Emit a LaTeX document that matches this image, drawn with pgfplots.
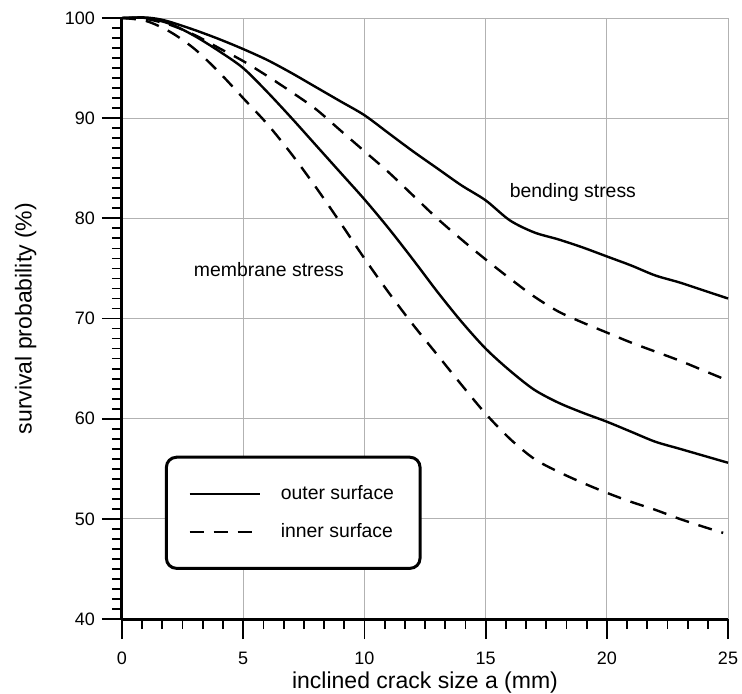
\documentclass[border=0pt]{standalone}
\usepackage{fontspec}
\setmainfont{Liberation Sans}
\usepackage{pgfplots}
\pgfplotsset{compat=1.18}
\begin{document}
\begin{tikzpicture}
\useasboundingbox (-61pt,-37pt) rectangle (310pt,309.5pt);
\begin{axis}[
  scale only axis, width=303pt, height=300.5pt,
  xmin=0, xmax=25, ymin=40, ymax=100,
  axis x line=bottom, axis y line=left,
  axis line style={-, line width=1.5pt},
  xtick={0,5,...,25}, ytick={40,50,...,100},
  minor x tick num=5, minor y tick num=9,
  xtick align=outside, ytick align=outside,
  major tick length=10pt, minor tick length=5pt,
  tick style={black, line width=0.9pt},
  grid=major, major grid style={gray!60, line width=0.4pt},
  /pgf/number format/assume math mode=true,
  tick label style={font=\fontsize{9}{11}\selectfont},
  xticklabel style={yshift=-3pt},
  label style={font=\fontsize{11.5}{13}\selectfont},
  xlabel={inclined crack size a (mm)},
  ylabel={survival probability (\%)},
  xlabel style={at={(axis description cs:0.5,-0.105)}, anchor=center},
  ylabel style={at={(axis description cs:-0.159,0.5)}, anchor=center},
  clip=false,
  legend style={at={(axis cs:1.77,56.3)}, anchor=north west, draw=black,
    line width=1.5pt, rounded corners=5pt, inner xsep=11pt, inner ysep=12pt,
    font=\fontsize{9.7}{11}\selectfont, row sep=6.5pt,
    /tikz/every odd column/.append style={column sep=8pt}},
  legend cell align=left,
  legend image code/.code={\draw[#1] (0pt,0pt) -- (35pt,0pt);},
]
% bending stress, outer surface
\addplot[black, line width=1.2pt, smooth] coordinates {
(0,100) (0.5,100.05) (1,100.05) (1.5,99.9) (2,99.6) (3,98.8) (4,97.9) (5,96.9)
(6,95.8) (7,94.5) (8,93.1) (9,91.7) (10,90.3) (11,88.5) (12,86.7) (13,85.0)
(14,83.3) (15,81.8) (16,79.8) (17,78.6) (18,77.9) (19,77.1) (20,76.2)
(21,75.3) (22,74.3) (23,73.6) (24,72.8) (25,72.0)};
\addlegendentry{outer surface}
% bending stress, inner surface
\addplot[black, line width=1.2pt, smooth, dash pattern=on 7pt off 5pt] coordinates {
(0,100) (1,99.9) (2,99.3) (3,98.3) (4,97.0) (5,95.7) (6,94.2) (7,92.6)
(8,90.9) (9,88.8) (10,86.7) (11,84.6) (12,82.3) (13,80.0) (14,77.9) (15,75.9)
(16,74.0) (17,72.2) (18,70.7) (19,69.6) (20,68.6) (21,67.6) (22,66.7)
(23,65.8) (24,64.8) (25,63.8)};
\addlegendentry{inner surface}
% membrane stress, outer surface
\addplot[black, line width=1.2pt, smooth] coordinates {
(0,100) (1,100) (2,99.4) (3,98.2) (4,96.7) (5,95.0) (6,92.6) (7,90.0)
(8,87.3) (9,84.6) (10,81.9) (11,79.0) (12,75.9) (13,72.7) (14,69.7) (15,67.0)
(16,64.8) (17,62.9) (18,61.6) (19,60.6) (20,59.7) (21,58.7) (22,57.7)
(23,57.0) (24,56.3) (25,55.6)};
% membrane stress, inner surface
\addplot[black, line width=1.2pt, smooth, dash pattern=on 7pt off 5pt] coordinates {
(0,100) (1,99.7) (2,98.6) (3,96.9) (4,94.6) (5,92.0) (6,89.4) (7,86.4)
(8,83.1) (9,79.6) (10,76.0) (11,72.6) (12,69.4) (13,66.4) (14,63.4) (15,60.5)
(16,58.0) (17,56.0) (18,54.7) (19,53.6) (20,52.6) (21,51.7) (22,50.9)
(23,50.0) (24,49.2) (24.8,48.6)};
\node[font=\fontsize{9.7}{11}\selectfont] at (axis cs:18.6,82.6) {bending stress};
\node[font=\fontsize{9.7}{11}\selectfont] at (axis cs:6.06,74.9) {membrane stress};
\end{axis}
\end{tikzpicture}
\end{document}
